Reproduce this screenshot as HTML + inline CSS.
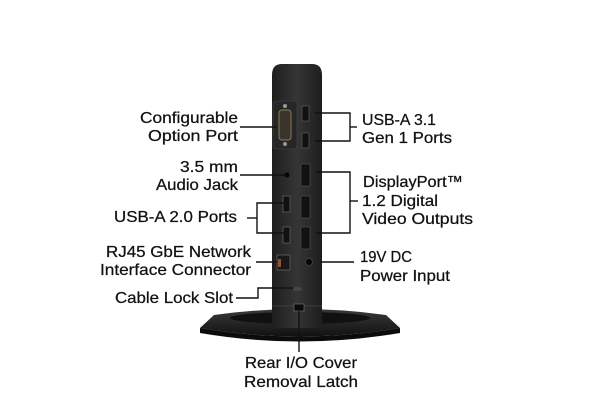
<!DOCTYPE html>
<html><head><meta charset="utf-8"><style>
html,body{margin:0;padding:0;background:#fff;}
svg{display:block}
text{font-family:"Liberation Sans",sans-serif;font-size:16px;fill:#111;stroke:#111;stroke-width:0.25;}
</style></head><body>
<svg width="600" height="400" viewBox="0 0 600 400" xmlns="http://www.w3.org/2000/svg">
<defs>
<linearGradient id="st" x1="0" y1="0" x2="0" y2="1"><stop offset="0" stop-color="#3a3a3a"/><stop offset="1" stop-color="#111"/></linearGradient>
<linearGradient id="bd" x1="0" y1="0" x2="1" y2="0"><stop offset="0" stop-color="#1e1e1e"/><stop offset="0.5" stop-color="#353535"/><stop offset="1" stop-color="#1e1e1e"/></linearGradient>
</defs>
<!-- stand -->
<path d="M214 315 Q300 303 386 315 L400 328 Q300 345 200 328 Z" fill="url(#st)"/>
<path d="M200 328 Q300 345 400 328 L400 333 Q300 350 200 333 Z" fill="#0c0c0c"/>
<ellipse cx="300" cy="318" rx="70" ry="6" fill="#111"/>
<!-- body -->
<path d="M272 75 Q272 64 282 64 L312 64 Q322 64 322 75 L322 328 L272 328 Z" fill="url(#bd)"/>
<line x1="272" y1="306" x2="322" y2="306" stroke="#555" stroke-width="0.6"/>
<!-- serial port -->
<rect x="273" y="101" width="24" height="48" rx="3" fill="#262626" stroke="#444" stroke-width="0.6"/>
<rect x="279" y="110" width="12" height="30" rx="3" fill="#3a342a" stroke="#8a7a5a" stroke-width="1"/>
<circle cx="285" cy="106" r="2" fill="#999"/><circle cx="285" cy="144" r="2" fill="#999"/>
<!-- usb 3.1 -->
<rect x="302" y="106" width="7" height="15" fill="#111" stroke="#666" stroke-width="0.6"/>
<rect x="302" y="133" width="7" height="15" fill="#111" stroke="#666" stroke-width="0.6"/>
<!-- displayports -->
<rect x="301" y="164" width="9" height="22" fill="#111" stroke="#555" stroke-width="0.6"/>
<rect x="301" y="196" width="9" height="22" fill="#111" stroke="#555" stroke-width="0.6"/>
<rect x="301" y="227" width="9" height="22" fill="#111" stroke="#555" stroke-width="0.6"/>
<!-- audio -->
<circle cx="287" cy="175" r="2.5" fill="#050505"/>
<!-- usb 2.0 -->
<rect x="283" y="196" width="7" height="16" fill="#111" stroke="#777" stroke-width="0.6"/>
<rect x="283" y="227" width="7" height="16" fill="#111" stroke="#777" stroke-width="0.6"/>
<!-- rj45 -->
<rect x="277" y="255" width="13" height="15" fill="#181818" stroke="#777" stroke-width="0.6"/>
<rect x="278" y="259" width="3" height="8" fill="#8a5530"/>
<!-- power -->
<circle cx="309" cy="262" r="3.5" fill="#050505" stroke="#555" stroke-width="0.6"/>
<!-- lock slot -->
<rect x="293" y="287" width="9" height="4" rx="2" fill="#444"/>
<!-- latch -->
<rect x="294" y="304" width="10" height="7" fill="#0a0a0a" stroke="#777" stroke-width="0.6"/>

<g stroke="#111" stroke-width="1.4" fill="none">
<line x1="240" y1="127" x2="276" y2="127"/>
<polyline points="315,113 350,113 350,141 315,141"/><line x1="350" y1="127" x2="357" y2="127"/>
<line x1="240" y1="175" x2="285" y2="175"/>
<polyline points="316,172 350,172 350,233 316,233"/><line x1="350" y1="201" x2="358" y2="201"/>
<polyline points="286,203 257,203 257,233 286,233"/><line x1="247" y1="218" x2="257" y2="218"/>
<line x1="256" y1="262" x2="277" y2="262"/>
<line x1="320" y1="262" x2="354" y2="262"/>
<polyline points="236,298 258,298 258,288 293,288"/>
<line x1="299" y1="311" x2="299" y2="352"/>
</g>

<g text-anchor="end">
<text x="238" y="123" textLength="98" lengthAdjust="spacingAndGlyphs">Configurable</text>
<text x="238" y="141" textLength="90" lengthAdjust="spacingAndGlyphs">Option Port</text>
<text x="238" y="172" textLength="58" lengthAdjust="spacingAndGlyphs">3.5 mm</text>
<text x="238" y="190" textLength="82" lengthAdjust="spacingAndGlyphs">Audio Jack</text>
<text x="237" y="222" textLength="123" lengthAdjust="spacingAndGlyphs">USB-A 2.0 Ports</text>
<text x="251" y="257" textLength="145" lengthAdjust="spacingAndGlyphs">RJ45 GbE Network</text>
<text x="251" y="275" textLength="151" lengthAdjust="spacingAndGlyphs">Interface Connector</text>
<text x="233" y="303" textLength="118" lengthAdjust="spacingAndGlyphs">Cable Lock Slot</text>
</g>
<text x="362" y="125" textLength="74" lengthAdjust="spacingAndGlyphs">USB-A 3.1</text>
<text x="362" y="143" textLength="90" lengthAdjust="spacingAndGlyphs">Gen 1 Ports</text>
<text x="363" y="187" textLength="100" lengthAdjust="spacingAndGlyphs">DisplayPort™</text>
<text x="362" y="206" textLength="76" lengthAdjust="spacingAndGlyphs">1.2 Digital</text>
<text x="362" y="224" textLength="111" lengthAdjust="spacingAndGlyphs">Video Outputs</text>
<text x="360" y="262" textLength="52" lengthAdjust="spacingAndGlyphs">19V DC</text>
<text x="360" y="281" textLength="90" lengthAdjust="spacingAndGlyphs">Power Input</text>
<g text-anchor="middle">
<text x="301" y="368" textLength="112" lengthAdjust="spacingAndGlyphs">Rear I/O Cover</text>
<text x="301" y="387" textLength="114" lengthAdjust="spacingAndGlyphs">Removal Latch</text>
</g>
</svg>
</body></html>
